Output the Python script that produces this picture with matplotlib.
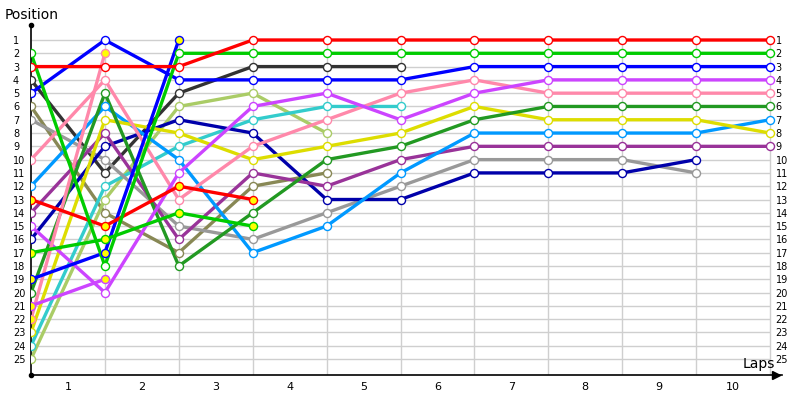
import numpy as np
import matplotlib
matplotlib.use("Agg")
import matplotlib.pyplot as plt

laps = list(range(0, 11))
lap_labels = [str(i) for i in range(1, 11)]
positions = list(range(1, 26))

# driver series (position at each lap boundary 0..10)
red      = [3, 3, 3, 1, 1, 1, 1, 1, 1, 1, 1]
green    = [2, 18, 2, 2, 2, 2, 2, 2, 2, 2, 2]
blue     = [5, 1, 4, 4, 4, 4, 3, 3, 3, 3, 3]
violet   = [15, 20, 11, 6, 5, 7, 5, 4, 4, 4, 4]
pink     = [10, 4, 13, 9, 7, 5, 4, 5, 5, 5, 5]
dkgreen  = [20, 5, 18, 14, 10, 9, 7, 6, 6, 6, 6]
yellow   = [23, 7, 8, 10, 9, 8, 6, 7, 7, 7, 8]
ltblue   = [12, 6, 10, 17, 15, 11, 8, 8, 8, 8, 7]
purple   = [14, 8, 16, 11, 12, 10, 9, 9, 9, 9, 9]
gray     = [7, 10, 15, 16, 14, 12, 10, 10, 10, 11]
navy     = [16, 9, 7, 8, 13, 13, 11, 11, 11, 10]
black    = [4, 11, 5, 3, 3, 3]
cyan     = [24, 12, 9, 7, 6, 6]
ltgreen  = [25, 13, 6, 5, 8]
olive    = [6, 14, 17, 12, 11]
red_y    = [13, 15, 12, 13]
green_y  = [17, 16, 14, 15]
blue_y   = [19, 17, 1]
magenta_y = [21, 19]
pink_y   = [22, 2]

series = [
    (olive, "#888855", False), (ltgreen, "#AACC66", False), (cyan, "#33CCCC", False),
    (black, "#333333", False), (gray, "#999999", False), (navy, "#0000AA", False),
    (purple, "#993399", False), (ltblue, "#0099FF", False), (yellow, "#DDDD00", False),
    (dkgreen, "#229922", False), (pink, "#FF88AA", False), (violet, "#CC44FF", False),
    (pink_y, "#FF88AA", True), (magenta_y, "#CC44FF", True), (blue_y, "#0000FF", True),
    (green_y, "#00CC00", True), (red_y, "#FF0000", True),
    (blue, "#0000FF", False), (green, "#00CC00", False), (red, "#FF0000", False),
]

W, H = 800, 400
fig = plt.figure(figsize=(8, 4), dpi=100)
px_x = 73.9      # pixels per lap
px_y = 13.2917   # pixels per position
x0_px, axr_px = 31, 782
top_px, bot_px = 25, 375
xmax = (axr_px - x0_px) / px_x
ybot = 1 + (bot_px - 40) / px_y
ytop = 1 - (40 - top_px) / px_y
ax = fig.add_axes([x0_px / W, (H - bot_px) / H, (axr_px - x0_px) / W, (bot_px - top_px) / H])
ax.set_xlim(0, xmax)
ax.set_ylim(ybot, ytop)

# grid
ax.hlines(positions, 0, laps[-1], color="#CFCFCF", lw=1, zorder=0)
ax.vlines(laps[1:], 1, ybot, color="#CFCFCF", lw=1, zorder=0)

for vals, col, filled in series:
    xs = laps[:len(vals)]
    ax.plot(xs, vals, color=col, lw=2.4, zorder=2, solid_capstyle="round")
    ax.plot(xs, vals, ls="none", marker="o", ms=5.8, mec=col, mew=1,
            mfc="#FFFF00" if filled else "white", zorder=3)

for s in ["top", "right"]:
    ax.spines[s].set_visible(False)
ax.spines["left"].set_color("black")
ax.spines["bottom"].set_color("black")
ax.spines["left"].set_linewidth(1.2)
ax.spines["bottom"].set_linewidth(1.2)

ax.set_yticks(positions)
ax.set_yticklabels([str(p) for p in positions], fontsize=7, ha="left")
ax.tick_params(axis="y", length=0, pad=13)
ax.set_xticks([l + 0.5 for l in laps[:-1]])
ax.set_xticklabels(lap_labels, fontsize=8)
ax.tick_params(axis="x", length=0, pad=5)

sec = ax.secondary_yaxis(laps[-1] / xmax)
sec.set_yticks(positions)
sec.set_yticklabels([str(p) for p in positions], fontsize=7)
sec.tick_params(length=0, pad=4)
sec.spines["right"].set_visible(False)

# axis ends
ax.plot([0], [1], marker="o", ms=3, color="black", transform=ax.transAxes, clip_on=False)
ax.plot([0], [0], marker="o", ms=3, color="black", transform=ax.transAxes, clip_on=False)
ax.plot([0.992], [0], marker=">", ms=6, color="black", transform=ax.transAxes, clip_on=False)

fig.text(5 / W, 1 - 15 / H, "Position", fontsize=10, va="center", ha="left")
fig.text(775 / W, 1 - 364 / H, "Laps", fontsize=10, va="center", ha="right")

fig.savefig("out.png", dpi=100)
